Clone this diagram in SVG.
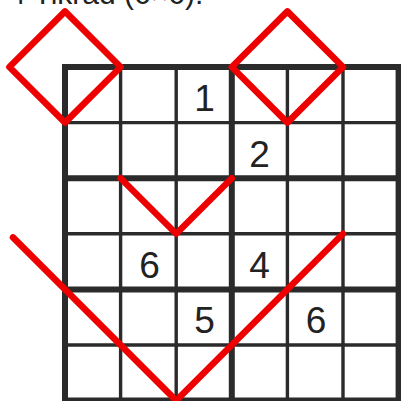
<svg xmlns="http://www.w3.org/2000/svg" width="401" height="401" viewBox="0 0 401 401">
<style>
.thin{stroke:#2b2b2b;stroke-width:3.4;fill:none}
.thick{stroke:#2b2b2b;stroke-width:6;fill:none;stroke-linecap:square}
.num{font-family:"Liberation Sans",Arial,sans-serif;font-size:37px;fill:#222;text-anchor:middle}
.title{font-family:"Liberation Sans",Arial,sans-serif;font-size:30px;fill:#222}
.red{stroke:#ee0000;stroke-width:6.5;fill:none;stroke-linecap:round;stroke-linejoin:round}
</style>
<rect width="401" height="401" fill="#fff"/>
<text class="title" x="9" y="4">4 Tikrad (6×6).</text>
<g id="grid">
<path class="thin" d="M120.6,67V401M176.2,67V401M287.4,67V401M343,67V401M65,122.6H401M65,233.8H401M65,345H401"/>
<path class="thick" d="M231.8,67V401M65,178.2H401M65,289.4H401"/>
<path class="thick" d="M65,401V67H398.6V401M65,400.6H398.6"/>
</g>
<g id="digits">
<text class="num" x="204.5" y="111">1</text>
<text class="num" x="259.6" y="166.6">2</text>
<text class="num" x="149.5" y="277.8">6</text>
<text class="num" x="259.6" y="277.8">4</text>
<text class="num" x="204.5" y="333">5</text>
<text class="num" x="316" y="333">6</text>
</g>
<g id="marks">
<path class="red" d="M9.4,67L65,11.4L120.6,67L65,122.6Z"/>
<path class="red" d="M231.8,67L287.4,11.4L343,67L287.4,122.6Z"/>
<path class="red" d="M120.6,178.2L176.2,233.8L231.8,178.2"/>
<path class="red" d="M13,237.4L176.2,400.6L343,233.8"/>
</g>
</svg>
